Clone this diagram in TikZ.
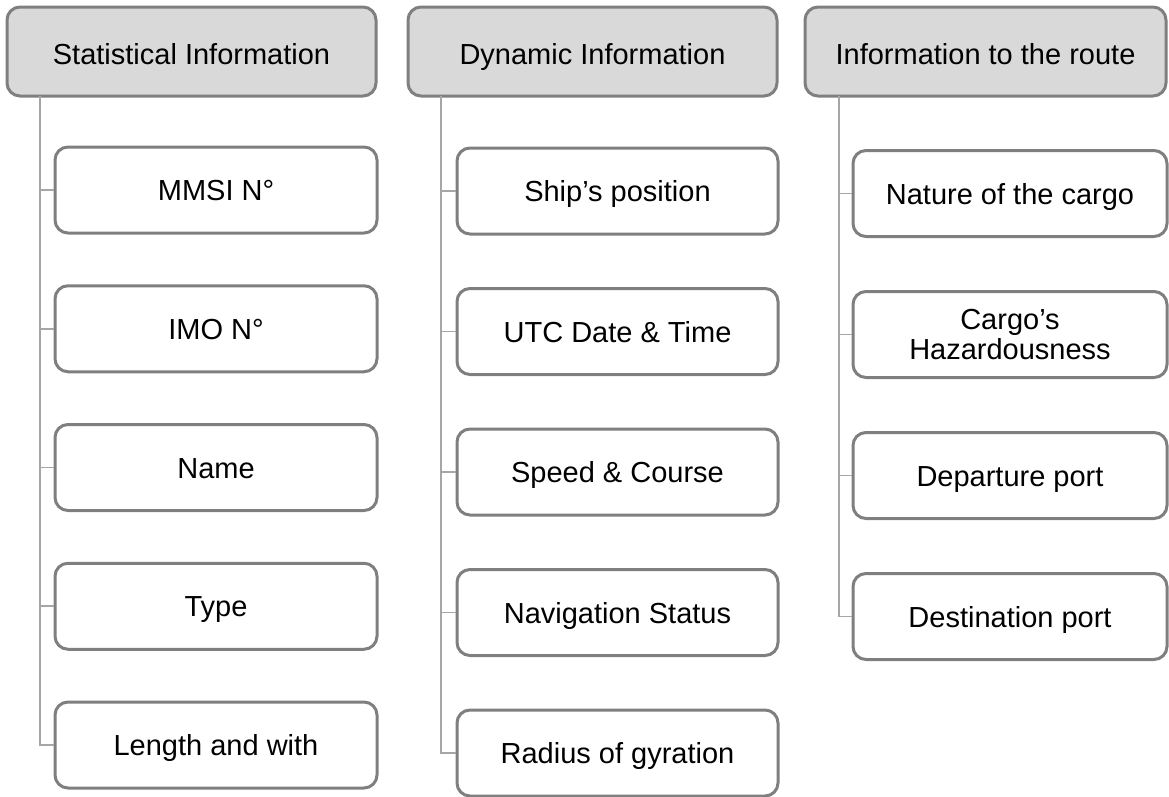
\documentclass[tikz,border=0pt]{standalone}
\usepackage{fontspec}
\setmainfont{Liberation Sans}
\usetikzlibrary{positioning}
\definecolor{boxline}{RGB}{127,127,127}
\definecolor{headfill}{RGB}{217,217,217}
\definecolor{linkline}{RGB}{166,166,166}
\tikzset{
  header/.style={draw=boxline, fill=headfill, line width=3pt, rounded corners=13pt,
    minimum width=#1, minimum height=89pt, inner sep=0pt,
    text height=25pt, text depth=0pt, font=\fontsize{29}{30}\selectfont},
  item/.style={draw=boxline, fill=white, line width=3pt, rounded corners=13pt,
    minimum width=#1, minimum height=86pt, inner sep=0pt,
    text height=21pt, text depth=0pt, font=\fontsize{29}{30}\selectfont},
  link/.style={draw=linkline, line width=1.8pt}
}

\begin{document}
\begin{tikzpicture}[x=1pt,y=-1pt]
    \useasboundingbox (0,0) rectangle (1169,796);
    % headers
    \node[header=369pt] (stat) at (191.5,51.5) {Statistical Information};
    \node[header=369pt] (dyn) at (592.5,51.5) {Dynamic Information};
    \node[header=361pt] (route) at (985.5,51.5) {Information to the route};
    % children
    \foreach \txt [count=\i] in {MMSI N°, IMO N°, Name, Type, Length and with}
      \node[item=322pt] (stat\i) at (216,{190+138.75*(\i-1)}) {\txt};
    \foreach \txt [count=\i] in {Ship’s position, UTC Date \& Time, Speed \& Course, Navigation Status, Radius of gyration}
      \node[item=321pt] (dyn\i) at (617.5,{191+140.5*(\i-1)}) {\txt};
    \foreach \txt [count=\i] in {Nature of the cargo, {\smash{\begin{tabular}{c}Cargo’s\\Hazardousness\end{tabular}}}, Departure port, Destination port}
      \node[item=314pt] (route\i) at (1010,{193.5+141*(\i-1)}) {\txt};
    % spines
    \coordinate (statroot) at (40,96);
    \coordinate (dynroot) at (441,96);
    \coordinate (routeroot) at (839,96);
    \draw[link] (statroot) |- (stat5.west);
    \draw[link] (dynroot) |- (dyn5.west);
    \draw[link] (routeroot) |- (route4.west);
    \foreach \i in {1,...,4} {
      \draw[link] (statroot |- stat\i.west) -- (stat\i.west);
      \draw[link] (dynroot |- dyn\i.west) -- (dyn\i.west);
    }
    \foreach \i in {1,...,3}
      \draw[link] (routeroot |- route\i.west) -- (route\i.west);
\end{tikzpicture}
\end{document}
